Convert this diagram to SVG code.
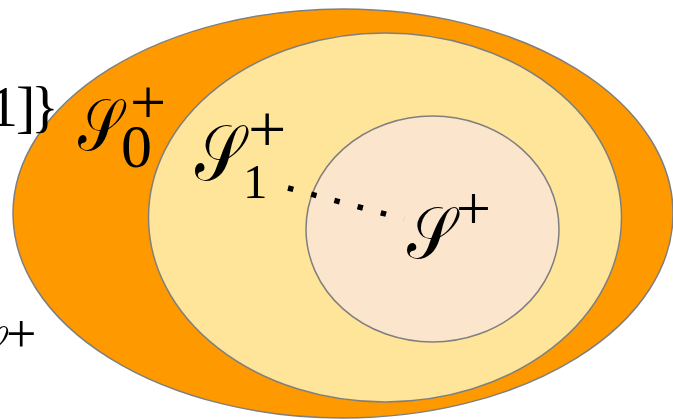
<svg xmlns="http://www.w3.org/2000/svg" width="673" height="419" viewBox="0 0 673 419">
<style>
.reg{stroke:#7f7f7f;stroke-width:1.5}
.t{font-family:"Liberation Serif","DejaVu Serif",serif;fill:#000}
.cal{font-family:"DejaVu Serif","Liberation Serif",serif;fill:#000;font-weight:normal}
</style>
<rect width="673" height="419" fill="#ffffff"/>
<g id="outer">
<ellipse class="reg" cx="343" cy="213.5" rx="330" ry="204.5" fill="#FF9900"/>
</g>
<g id="middle">
<ellipse class="reg" cx="385" cy="217.5" rx="236.5" ry="184.5" fill="#FFE599"/>
</g>
<g id="inner">
<ellipse class="reg" cx="432.5" cy="229" rx="126.5" ry="113" fill="#FCE5CD"/>
</g>
<g id="connectors">
<line x1="288" y1="188" x2="404" y2="219" stroke="#000" stroke-width="5.5" stroke-dasharray="5.5 18.5"/>
</g>
<g id="label-left-top">
<text class="t" y="126" font-size="58"><tspan x="-11">1</tspan><tspan x="16">]</tspan><tspan x="31">}</tspan></text>
</g>
<g id="label-left-bottom">
<text class="cal" transform="translate(4,368) scale(0.8,1)" font-size="60" text-anchor="end">𝒮</text>
<text class="t" x="6" y="352" font-size="54">+</text>
</g>
<g id="S0">
<text class="cal" transform="translate(78,150) scale(0.78,1)" font-size="72">𝒮</text>
<text class="t" x="130" y="124" font-size="64">+</text>
<text class="t" x="121" y="167" font-size="62">0</text>
</g>
<g id="S1">
<text class="cal" transform="translate(195,180) scale(0.8,1)" font-size="78">𝒮</text>
<text class="t" x="248" y="152" font-size="68">+</text>
<text class="t" x="243" y="198" font-size="49">1</text>
</g>
<g id="S">
<text class="cal" transform="translate(407,258) scale(0.85,1)" font-size="72">𝒮</text>
<text class="t" x="456" y="229" font-size="62">+</text>
</g>
</svg>
